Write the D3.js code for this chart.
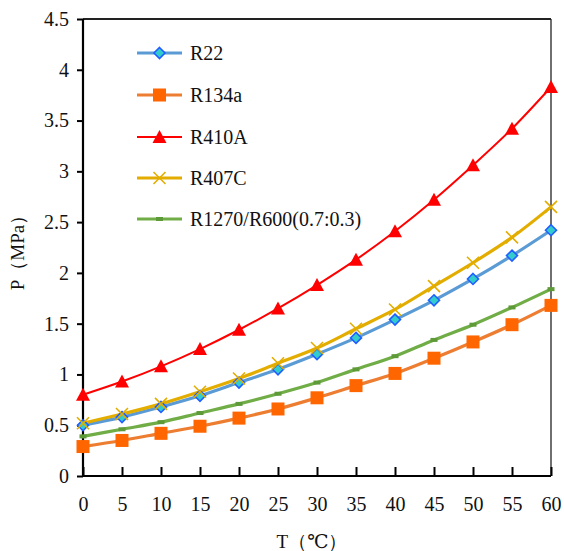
<!DOCTYPE html>
<html><head><meta charset="utf-8">
<script src="https://cdn.jsdelivr.net/npm/d3@7"></script>
<style>body{margin:0;background:#fff;} svg{display:block;} text{font-family:"Liberation Serif",Tinos,"DejaVu Serif",serif;}</style>
</head><body>
<script>
const temps = [0,5,10,15,20,25,30,35,40,45,50,55,60];
const r22 =   [0.50,0.58,0.68,0.79,0.92,1.05,1.20,1.36,1.54,1.73,1.94,2.17,2.42];
const r134a = [0.29,0.35,0.42,0.49,0.57,0.66,0.77,0.89,1.01,1.16,1.32,1.49,1.68];
const r410a = [0.80,0.93,1.08,1.25,1.44,1.65,1.88,2.13,2.41,2.72,3.06,3.42,3.83];
const r407c = [0.52,0.61,0.71,0.83,0.96,1.11,1.26,1.45,1.64,1.87,2.10,2.35,2.65];
const r1270 = [0.39,0.46,0.53,0.62,0.71,0.81,0.92,1.05,1.18,1.34,1.49,1.66,1.84];
const seriesNames = ["R22","R134a","R410A","R407C","R1270/R600(0.7:0.3)"];
const xTicks = [0,5,10,15,20,25,30,35,40,45,50,55,60];
const yTicks = [0,0.5,1,1.5,2,2.5,3,3.5,4,4.5];

const W=564,H=551;
const L=83,R=551,T=19,B=476;
const svg=d3.select("body").append("svg").attr("width",W).attr("height",H);
const x=d3.scaleLinear().domain([0,60]).range([L,R]);
const y=d3.scaleLinear().domain([0,4.5]).range([B,T]);
const font='"Liberation Serif",Tinos,"DejaVu Serif",serif';

const styles=[
 {data:r22,line:"#5B9BD5",w:3.2,marker:"diamond",fill:"#33CCCC",stroke:"#1F5FFF"},
 {data:r134a,line:"#ED7D31",w:3.2,marker:"square",fill:"#FF6600",stroke:"#FF6600"},
 {data:r410a,line:"#FF0000",w:2,marker:"triangle",fill:"#FF0000",stroke:"#FF0000"},
 {data:r407c,line:"#E3AD00",w:3.2,marker:"x",fill:"none",stroke:"#E3AD00"},
 {data:r1270,line:"#70AD47",w:3.2,marker:"dash",fill:"#70AD47",stroke:"#70AD47"}
];

// frame
svg.append("line").attr("x1",L).attr("x2",R).attr("y1",T).attr("y2",T).attr("stroke","#222").attr("stroke-width",2);
svg.append("line").attr("x1",R).attr("x2",R).attr("y1",T).attr("y2",B).attr("stroke","#222").attr("stroke-width",1.3);

// axes
const xAxis=svg.append("g").attr("transform",`translate(0,${B})`)
 .call(d3.axisBottom(x).tickValues(xTicks).tickSize(-9).tickPadding(21).tickFormat(d3.format("d")));
const yAxis=svg.append("g").attr("transform",`translate(${L},0)`)
 .call(d3.axisLeft(y).tickValues(yTicks).tickSize(6).tickPadding(8).tickFormat(d=>d));
[xAxis,yAxis].forEach(g=>{
 g.attr("font-family",null);
 g.select(".domain").attr("stroke","#000").attr("stroke-width",2.2);
 g.selectAll(".tick line").attr("stroke","#000").attr("stroke-width",2);
 g.selectAll(".tick text").style("font-family",font).attr("font-size",20).attr("fill","#111");
});
xAxis.selectAll(".tick text").attr("dy","0.71em");
yAxis.select(".domain").attr("d",`M0,${B}V${T}`);
xAxis.select(".domain").attr("d",`M${L},0H${R}`);

function drawMarker(g,type,cx,cy,s,scale){
 scale=scale||1;
 if(type==="diamond"){
  const r=5.5*scale;
  g.append("path").attr("d",`M${cx},${cy-r}L${cx+r},${cy}L${cx},${cy+r}L${cx-r},${cy}Z`)
   .attr("fill",s.fill).attr("stroke",s.stroke).attr("stroke-width",1.6);
 } else if(type==="square"){
  const r=6.5*scale;
  g.append("rect").attr("x",cx-r).attr("y",cy-r).attr("width",2*r).attr("height",2*r).attr("fill",s.fill);
 } else if(type==="triangle"){
  const r=7*scale;
  g.append("path").attr("d",`M${cx},${cy-r}L${cx+r},${cy+r*0.85}L${cx-r},${cy+r*0.85}Z`).attr("fill",s.fill);
 } else if(type==="x"){
  const r=6*scale;
  g.append("path").attr("d",`M${cx-r},${cy-r}L${cx+r},${cy+r}M${cx+r},${cy-r}L${cx-r},${cy+r}`)
   .attr("stroke",s.stroke).attr("stroke-width",1.6);
 } else if(type==="dash"){
  g.append("rect").attr("x",cx-3.5).attr("y",cy-2).attr("width",7).attr("height",4).attr("fill","#5E9A38");
 }
}

const line=d3.line().x(d=>x(d[0])).y(d=>y(d[1])).curve(d3.curveCatmullRom.alpha(0.5));
styles.forEach(s=>{
 const pts=temps.map((t,i)=>[t,s.data[i]]);
 svg.append("path").attr("d",line(pts)).attr("fill","none").attr("stroke",s.line).attr("stroke-width",s.w);
});
styles.forEach(s=>{
 const g=svg.append("g");
 temps.forEach((t,i)=>drawMarker(g,s.marker,x(t),y(s.data[i]),s));
});

// legend
const legY=[53,95,137,178,219];
styles.forEach((s,i)=>{
 const g=svg.append("g");
 g.append("line").attr("x1",137).attr("x2",182).attr("y1",legY[i]).attr("y2",legY[i]).attr("stroke",s.line).attr("stroke-width",s.w);
 drawMarker(g,s.marker,159.5,legY[i],s);
 g.append("text").attr("x",190).attr("y",legY[i]).attr("dy","0.35em").style("font-family",font).attr("font-size",20).attr("fill","#111").text(seriesNames[i]);
});

// axis titles
svg.append("text").attr("transform",`translate(24,${248}) rotate(-90)`).attr("text-anchor","middle")
 .style("font-family",font).attr("font-size",19).attr("fill","#111").text("P（MPa）");
svg.append("text").attr("x",312).attr("y",548).attr("text-anchor","middle")
 .style("font-family",font).attr("font-size",19).attr("fill","#111").text("T（℃）");
</script>
</body></html>
